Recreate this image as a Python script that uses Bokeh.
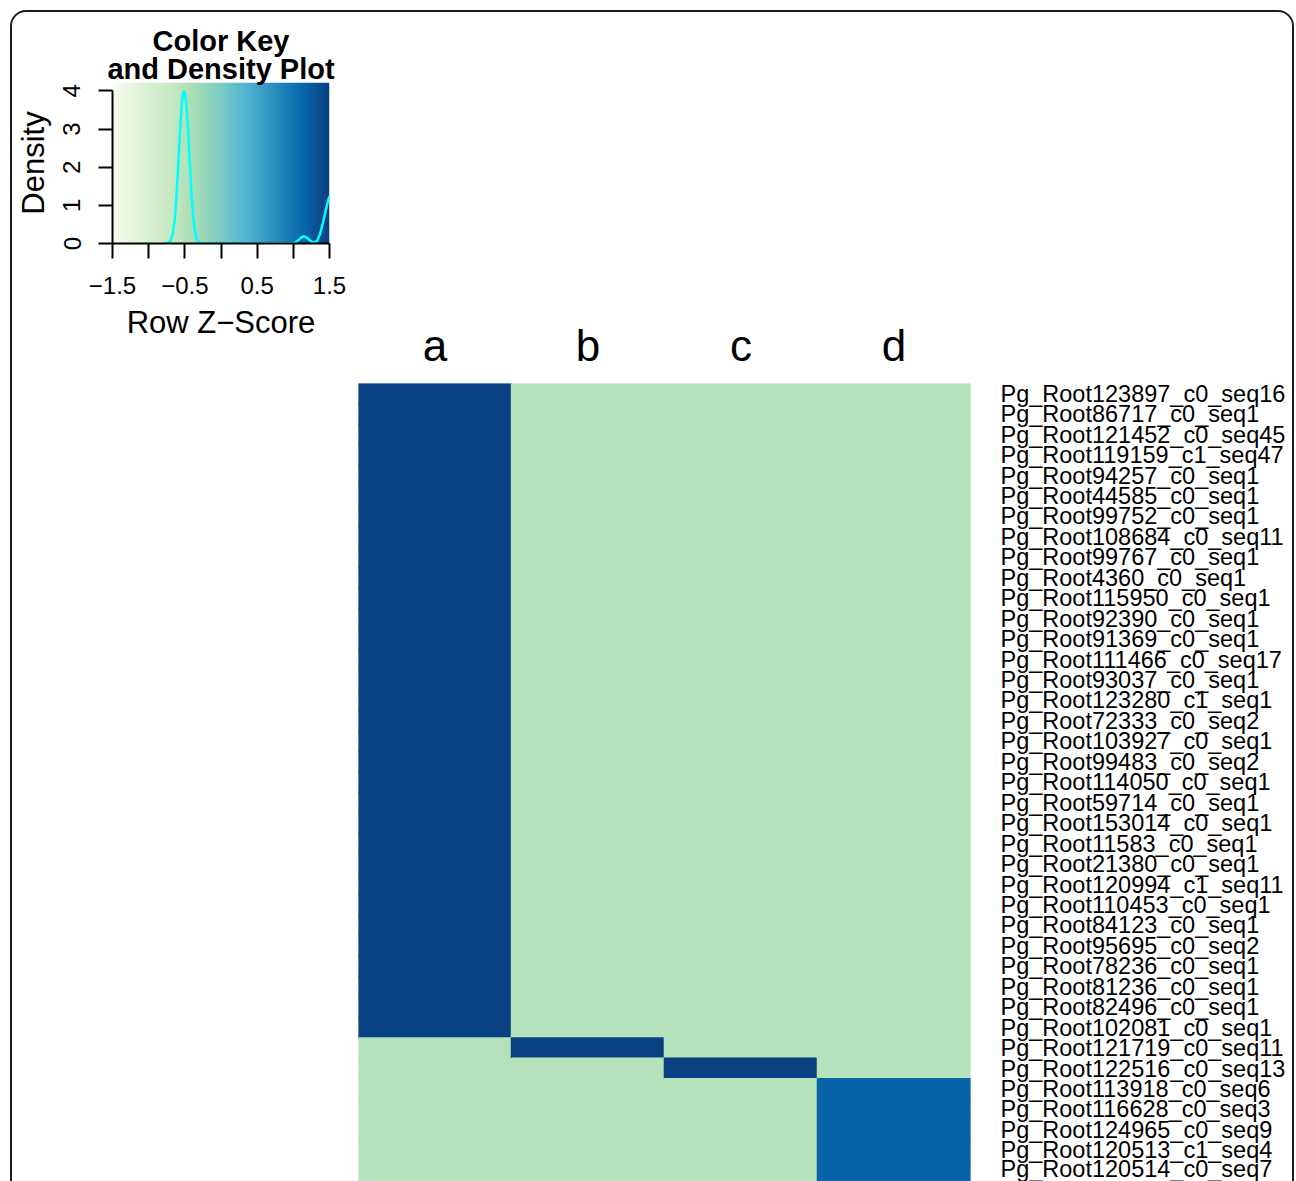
import numpy as np
from bokeh.plotting import figure
from bokeh.models import (Range1d, FactorRange, LinearAxis, FixedTicker, LinearColorMapper,
                          ColumnDataSource, Title, Div)
from bokeh.transform import transform
from bokeh.embed import file_html
from bokeh.resources import INLINE

# ---------------- data ----------------
row_labels = [
    "Pg_Root123897_c0_seq16", "Pg_Root86717_c0_seq1", "Pg_Root121452_c0_seq45",
    "Pg_Root119159_c1_seq47", "Pg_Root94257_c0_seq1", "Pg_Root44585_c0_seq1",
    "Pg_Root99752_c0_seq1", "Pg_Root108684_c0_seq11", "Pg_Root99767_c0_seq1",
    "Pg_Root4360_c0_seq1", "Pg_Root115950_c0_seq1", "Pg_Root92390_c0_seq1",
    "Pg_Root91369_c0_seq1", "Pg_Root111466_c0_seq17", "Pg_Root93037_c0_seq1",
    "Pg_Root123280_c1_seq1", "Pg_Root72333_c0_seq2", "Pg_Root103927_c0_seq1",
    "Pg_Root99483_c0_seq2", "Pg_Root114050_c0_seq1", "Pg_Root59714_c0_seq1",
    "Pg_Root153014_c0_seq1", "Pg_Root11583_c0_seq1", "Pg_Root21380_c0_seq1",
    "Pg_Root120994_c1_seq11", "Pg_Root110453_c0_seq1", "Pg_Root84123_c0_seq1",
    "Pg_Root95695_c0_seq2", "Pg_Root78236_c0_seq1", "Pg_Root81236_c0_seq1",
    "Pg_Root82496_c0_seq1", "Pg_Root102081_c0_seq1", "Pg_Root121719_c0_seq11",
    "Pg_Root122516_c0_seq13", "Pg_Root113918_c0_seq6", "Pg_Root116628_c0_seq3",
    "Pg_Root124965_c0_seq9", "Pg_Root120513_c1_seq4", "Pg_Root120514_c0_seq7",
]
col_labels = ["a", "b", "c", "d"]

# row z-scores per column
z_a = [1.5] * 32 + [-0.5] * 7
z_b = [-0.5] * 32 + [1.5] + [-0.5] * 6
z_c = [-0.5] * 33 + [1.5] + [-0.5] * 5
z_d = [-0.5] * 34 + [1.15] * 5

# density curve of the colour key
dens_x = [-0.80, -0.74, -0.70, -0.67, -0.64, -0.62, -0.60, -0.58, -0.56, -0.54, -0.52,
          -0.50, -0.48, -0.46, -0.44, -0.42, -0.40, -0.38, -0.35, -0.31, -0.27, 0.0,
          0.5, 0.96, 1.02, 1.07, 1.11, 1.15, 1.19, 1.23, 1.27, 1.30, 1.33, 1.37, 1.41,
          1.45, 1.48, 1.50]
dens_y = [0.0, 0.01, 0.06, 0.22, 0.60, 1.10, 1.75, 2.45, 3.15, 3.70, 3.98,
          3.97, 3.70, 3.15, 2.45, 1.75, 1.10, 0.60, 0.20, 0.03, 0.0, 0.0,
          0.0, 0.0, 0.02, 0.09, 0.16, 0.19, 0.15, 0.08, 0.03, 0.03, 0.08, 0.25, 0.55,
          0.88, 1.12, 1.25]

key_x_ticks = [-1.5, -1.0, -0.5, 0.0, 0.5, 1.0, 1.5]
key_x_labels = ["\u22121.5", "", "\u22120.5", "", "0.5", "", "1.5"]
key_y_ticks = [0, 1, 2, 3, 4]
key_y_labels = ["0", "1", "2", "3", "4"]
key_title_lines = ["Color Key", "and Density Plot"]

GnBu9 = ["#f7fcf0", "#e0f3db", "#ccebc5", "#a8ddb5", "#7bccc4",
         "#4eb3d3", "#2b8cbe", "#0868ac", "#084081"]

# ---------------- helpers ----------------
FONT = "Liberation Sans"
INK = "#000000"


def interp_palette(hexes, n):
    rgb = np.array([[int(h[i:i + 2], 16) for i in (1, 3, 5)] for h in hexes], float)
    pos = np.linspace(0, len(hexes) - 1, n)
    out = []
    for p in pos:
        i = min(int(np.floor(p)), len(hexes) - 2)
        f = p - i
        c = rgb[i] * (1 - f) + rgb[i + 1] * f
        out.append("#%02x%02x%02x" % tuple(int(round(v)) for v in c))
    return out


palette = interp_palette(GnBu9, 256)
mapper = LinearColorMapper(palette=palette, low=-1.5, high=1.5)

TOTAL_W = 1280
TOTAL_H = 1173

# ---------------- heatmap (main canvas) ----------------
n_rows = len(row_labels)
xs, ys, zs = [], [], []
for col, zcol in zip(col_labels, [z_a, z_b, z_c, z_d]):
    for i, z in enumerate(zcol):
        xs.append(col)
        ys.append(i + 0.5)
        zs.append(z)
src = ColumnDataSource(dict(x=xs, y=ys, z=zs))

ROW_PX = 20.45
HM_LEFT, HM_W, HM_TOP = 350, 612, 375
plot_h = TOTAL_H - HM_TOP
hf = figure(width=TOTAL_W, height=TOTAL_H, x_range=FactorRange(*col_labels),
            y_range=Range1d(plot_h / ROW_PX, 0),
            output_backend="svg", toolbar_location=None, title=None,
            x_axis_location="above", y_axis_location=None,
            min_border_left=HM_LEFT, min_border_right=TOTAL_W - HM_LEFT - HM_W,
            min_border_top=HM_TOP, min_border_bottom=0,
            styles={"position": "absolute", "left": "8px", "top": "8px"})
hf.rect(x="x", y="y", width=1, height=1, source=src,
        fill_color=transform("z", mapper), line_color=transform("z", mapper), line_width=1.5)
hf.grid.visible = False
hf.outline_line_color = None

ta = hf.xaxis[0]
ta.axis_line_color = None
ta.major_tick_line_color = None
ta.minor_tick_line_color = None
ta.major_label_text_font = FONT
ta.major_label_text_font_size = "44px"
ta.major_label_text_color = INK
ta.major_label_standoff = 8

ra = LinearAxis(ticker=FixedTicker(ticks=[i + 0.5 for i in range(n_rows)]),
                major_label_overrides={i + 0.5: lab for i, lab in enumerate(row_labels)},
                axis_line_color=None, major_tick_line_color=None, minor_tick_line_color=None,
                major_label_standoff=24, major_label_text_font=FONT,
                major_label_text_font_size="23.5px", major_label_text_color=INK)
hf.add_layout(ra, "right")

# ---------------- colour key (overlaid at top-left) ----------------
KEY_W, KEY_H = 350, 350
KEY_L, KEY_R = 104, 29
KEY_TOP_Y = 4.22
kf = figure(width=KEY_W, height=KEY_H, x_range=Range1d(-1.5, 1.5), y_range=Range1d(0, KEY_TOP_Y),
            output_backend="svg", toolbar_location=None, title=None,
            min_border_left=KEY_L, min_border_right=KEY_R,
            min_border_top=74, min_border_bottom=KEY_H - 74 - 161,
            styles={"position": "absolute", "left": "8px", "top": "8px"})
kf.background_fill_alpha = 0
kf.border_fill_alpha = 0
kf.image(image=[np.linspace(-1.5, 1.5, 400).reshape(1, -1)], x=-1.5, y=0, dw=3, dh=KEY_TOP_Y,
         color_mapper=mapper)
kf.line(dens_x, dens_y, line_color="#00ffff", line_width=2.5)
kf.grid.visible = False
kf.outline_line_color = None

xa = kf.xaxis[0]
xa.ticker = FixedTicker(ticks=key_x_ticks)
xa.major_label_overrides = {t: l for t, l in zip(key_x_ticks, key_x_labels)}
xa.major_tick_out = 15
xa.major_tick_in = 0
xa.minor_tick_line_color = None
xa.major_tick_line_width = 2
xa.axis_line_width = 2
xa.axis_line_color = INK
xa.major_tick_line_color = INK
xa.major_label_standoff = 18
xa.major_label_text_font = FONT
xa.major_label_text_font_size = "24px"
xa.major_label_text_color = INK
xa.axis_label = "Row Z\u2212Score"
xa.axis_label_text_font = FONT
xa.axis_label_text_font_size = "31px"
xa.axis_label_text_font_style = "normal"
xa.axis_label_text_color = INK
xa.axis_label_standoff = 8

ya = kf.yaxis[0]
ya.ticker = FixedTicker(ticks=key_y_ticks)
ya.major_label_overrides = {t: l for t, l in zip(key_y_ticks, key_y_labels)}
ya.bounds = (0, 4)
ya.major_tick_out = 14
ya.major_tick_in = 0
ya.minor_tick_line_color = None
ya.major_tick_line_width = 2
ya.axis_line_width = 2
ya.axis_line_color = INK
ya.major_tick_line_color = INK
ya.major_label_orientation = "vertical"
ya.major_label_standoff = 18
ya.major_label_text_font = FONT
ya.major_label_text_font_size = "24px"
ya.major_label_text_color = INK
ya.axis_label = "Density"
ya.axis_label_text_font = FONT
ya.axis_label_text_font_size = "31px"
ya.axis_label_text_font_style = "normal"
ya.axis_label_text_color = INK
ya.axis_label_standoff = 10


# ---------------- key title: one small transparent figure per line ----------------
def title_line(text, bottom_px):
    head = 40
    tf = figure(width=KEY_W, height=head + 1, x_range=Range1d(0, 1), y_range=Range1d(0, 1),
                output_backend="svg", toolbar_location=None, title=None,
                x_axis_location=None, y_axis_location=None,
                min_border_left=KEY_L, min_border_right=KEY_R,
                min_border_top=head, min_border_bottom=0,
                styles={"position": "absolute", "left": "8px", "top": "%dpx" % (bottom_px - head)})
    tf.background_fill_alpha = 0
    tf.border_fill_alpha = 0
    tf.outline_line_color = None
    tf.grid.visible = False
    tf.add_layout(Title(text=text, align="center", text_font=FONT, text_font_size="29px",
                        text_font_style="bold", text_color=INK, standoff=0, offset=0), "above")
    return tf


title_figs = [title_line(t, b) for t, b in zip(key_title_lines, [56, 84])]

# ---------------- rounded page frame (clipped at the window bottom) ----------------
frame = Div(text='<div style="position:absolute;left:10px;top:10px;width:1284px;height:1400px;'
                 'border:2px solid #1e1e1e;border-radius:16px;box-sizing:border-box;"></div>',
            width=1296, height=1181, margin=0,
            styles={"position": "absolute", "left": "0px", "top": "0px",
                    "overflow": "hidden", "pointer-events": "none"})

open("out.html", "w").write(file_html([hf, kf] + title_figs + [frame], INLINE))
